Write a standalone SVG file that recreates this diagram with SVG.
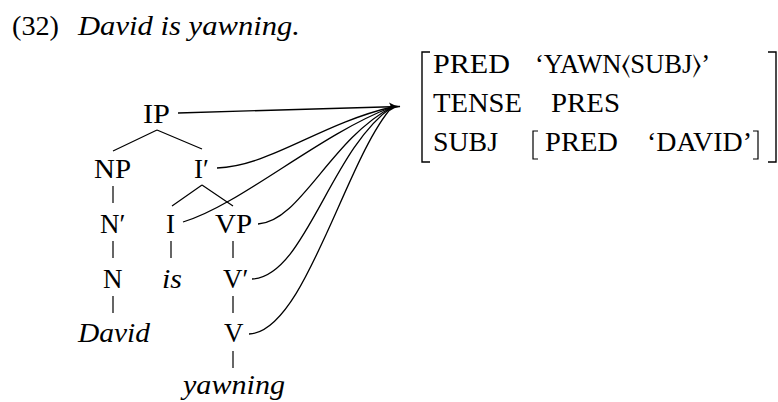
<svg xmlns="http://www.w3.org/2000/svg" width="778" height="402" viewBox="0 0 778 402">
<defs>
<style>
text{font-family:Liberation Serif,Tinos,Times New Roman,Noto Serif,FreeSerif,DejaVu Serif,serif;font-size:27px;fill:#000}
.it{font-style:italic}
.ln{stroke:#000;stroke-width:1.2;fill:none}
.cn{stroke:#000;stroke-width:1.3;fill:none}
.br{stroke:#000;stroke-width:1.4;fill:none}
</style>
<marker id="ah" viewBox="0 0 12 10" refX="11" refY="5" markerWidth="12" markerHeight="10" markerUnits="userSpaceOnUse" orient="auto">
<path d="M0,0.5 Q5,4 11.5,5 Q5,6 0,9.5 Q3,5 0,0.5 z" fill="#000"/>
</marker>
</defs>
<rect width="778" height="402" fill="#fff"/>
<g id="title">
<text x="12" y="35" textLength="47" lengthAdjust="spacingAndGlyphs">(32)</text>
<text class="it" x="78" y="35" textLength="222" lengthAdjust="spacingAndGlyphs">David is yawning.</text>
</g>
<g id="tree-lines">
<path class="ln" d="M157,130 L113,151 M157,130 L202,149"/>
<path class="ln" d="M113,186 L113,203"/>
<path class="ln" d="M202,185 L172,206 M202,185 L233,206"/>
<path class="ln" d="M113,241 L113,258 M171,241 L171,258 M233,241 L233,258"/>
<path class="ln" d="M113,296 L113,313 M233,296 L233,313"/>
<path class="ln" d="M233,351 L233,368"/>
</g>
<g id="IP"><text x="143" y="123" textLength="27" lengthAdjust="spacingAndGlyphs">IP</text></g>
<g id="NP"><text x="94" y="178" textLength="37" lengthAdjust="spacingAndGlyphs">NP</text></g>
<g id="Ibar"><text x="194" y="178">I′</text></g>
<g id="Nbar"><text x="100" y="233">N′</text></g>
<g id="I"><text x="166" y="233">I</text></g>
<g id="VP"><text x="215" y="233" textLength="37" lengthAdjust="spacingAndGlyphs">VP</text></g>
<g id="N"><text x="103" y="288">N</text></g>
<g id="is"><text class="it" x="162" y="288" textLength="20" lengthAdjust="spacingAndGlyphs">is</text></g>
<g id="Vbar"><text x="223" y="288">V′</text></g>
<g id="David"><text class="it" x="78" y="342" textLength="72" lengthAdjust="spacingAndGlyphs">David</text></g>
<g id="V"><text x="224" y="342">V</text></g>
<g id="yawning"><text class="it" x="183" y="394" textLength="102" lengthAdjust="spacingAndGlyphs">yawning</text></g>
<g id="connectors">
<path class="cn" d="M178,113 L400,106.5" marker-end="url(#ah)"/>
<path class="cn" d="M217,168 C270,166 320,124 392,107"/>
<path class="cn" d="M183,222 C240,205 320,134 392,107"/>
<path class="cn" d="M258,224 C300,222 330,140 392,107"/>
<path class="cn" d="M252,279 C305,277 330,150 392,107"/>
<path class="cn" d="M249,334 C305,332 345,160 392,107"/>
</g>
<g id="fstructure">
<path class="br" d="M430,52 L422,52 L422,162 L430,162"/>
<path class="br" d="M768,52 L776,52 L776,162 L768,162"/>
<text x="433" y="73" textLength="77" lengthAdjust="spacingAndGlyphs">PRED</text>
<text x="535" y="73" textLength="175" lengthAdjust="spacingAndGlyphs">‘YAWN⟨SUBJ⟩’</text>
<text x="433" y="111.5" textLength="89" lengthAdjust="spacingAndGlyphs">TENSE</text>
<text x="551" y="111.5" textLength="69" lengthAdjust="spacingAndGlyphs">PRES</text>
<text x="433" y="151" textLength="65" lengthAdjust="spacingAndGlyphs">SUBJ</text>
<path class="ln" d="M538,131 L533,131 L533,159 L538,159"/>
<text x="545" y="151" textLength="73" lengthAdjust="spacingAndGlyphs">PRED</text>
<text x="647" y="151" textLength="105" lengthAdjust="spacingAndGlyphs">‘DAVID’</text>
<path class="ln" d="M753,131 L758,131 L758,159 L753,159"/>
</g>
</svg>
